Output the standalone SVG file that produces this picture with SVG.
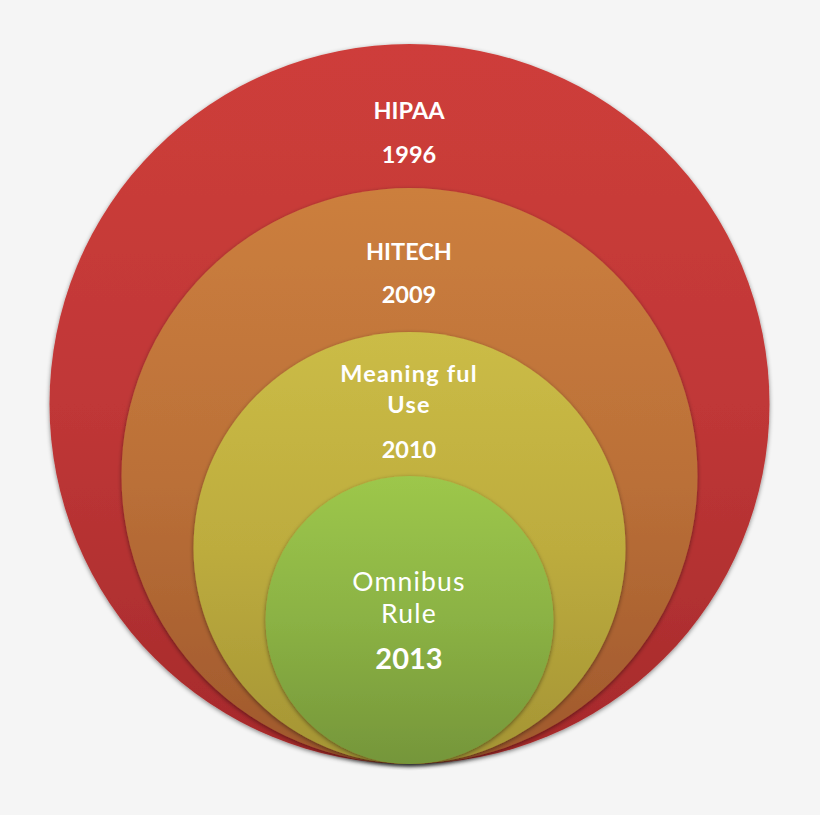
<svg xmlns="http://www.w3.org/2000/svg" width="820" height="815" viewBox="0 0 820 815">
<style>
.t{font-family:Lato,"Open Sans","Liberation Sans",sans-serif;fill:#ffffff;text-anchor:middle}
.b{font-weight:bold;font-size:23.5px}
.r{font-weight:normal;font-size:26.5px}
.big{font-weight:bold;font-size:29px}
.ls{letter-spacing:1.2px}
</style>
<defs>
<linearGradient id="gRed" x1="0" y1="0" x2="0" y2="1">
<stop offset="0" stop-color="#ce3e3a"/><stop offset="0.5" stop-color="#c03737"/><stop offset="1" stop-color="#a52a2b"/>
</linearGradient>
<linearGradient id="gOrange" x1="0" y1="0" x2="0" y2="1">
<stop offset="0" stop-color="#cc7f3e"/><stop offset="0.5" stop-color="#bb7038"/><stop offset="1" stop-color="#9f582c"/>
</linearGradient>
<linearGradient id="gYellow" x1="0" y1="0" x2="0" y2="1">
<stop offset="0" stop-color="#cbbc46"/><stop offset="0.5" stop-color="#bdac3e"/><stop offset="1" stop-color="#a49434"/>
</linearGradient>
<linearGradient id="gGreen" x1="0" y1="0" x2="0" y2="1">
<stop offset="0" stop-color="#9dc74b"/><stop offset="0.5" stop-color="#8bb244"/><stop offset="1" stop-color="#75963a"/>
</linearGradient>
<filter id="sh" x="-10%" y="-10%" width="120%" height="120%">
<feDropShadow dx="0" dy="1.5" stdDeviation="2" flood-color="#000" flood-opacity="0.45"/>
</filter>
</defs>
<rect width="820" height="815" fill="#f5f5f5"/>
<g id="hipaa">
<circle cx="409.5" cy="404" r="360" fill="url(#gRed)" filter="url(#sh)"/>
<text class="t b" x="409" y="119">HIPAA</text>
<text class="t b" x="409" y="163">1996</text>
</g>
<g id="hitech">
<circle cx="409.5" cy="476" r="288" fill="url(#gOrange)" filter="url(#sh)"/>
<text class="t b" x="409" y="260">HITECH</text>
<text class="t b" x="409" y="303">2009</text>
</g>
<g id="meaningful">
<circle cx="409.5" cy="548" r="216" fill="url(#gYellow)" filter="url(#sh)"/>
<text class="t b ls" x="409" y="382">Meaning ful</text>
<text class="t b ls" x="409" y="413">Use</text>
<text class="t b" x="409" y="458">2010</text>
</g>
<g id="omnibus">
<circle cx="409.5" cy="620" r="144" fill="url(#gGreen)" filter="url(#sh)"/>
<text class="t r ls" x="409" y="591">Omnibus</text>
<text class="t r ls" x="409" y="623">Rule</text>
<text class="t big" x="409" y="669">2013</text>
</g>
<g id="connectors"/>
</svg>
